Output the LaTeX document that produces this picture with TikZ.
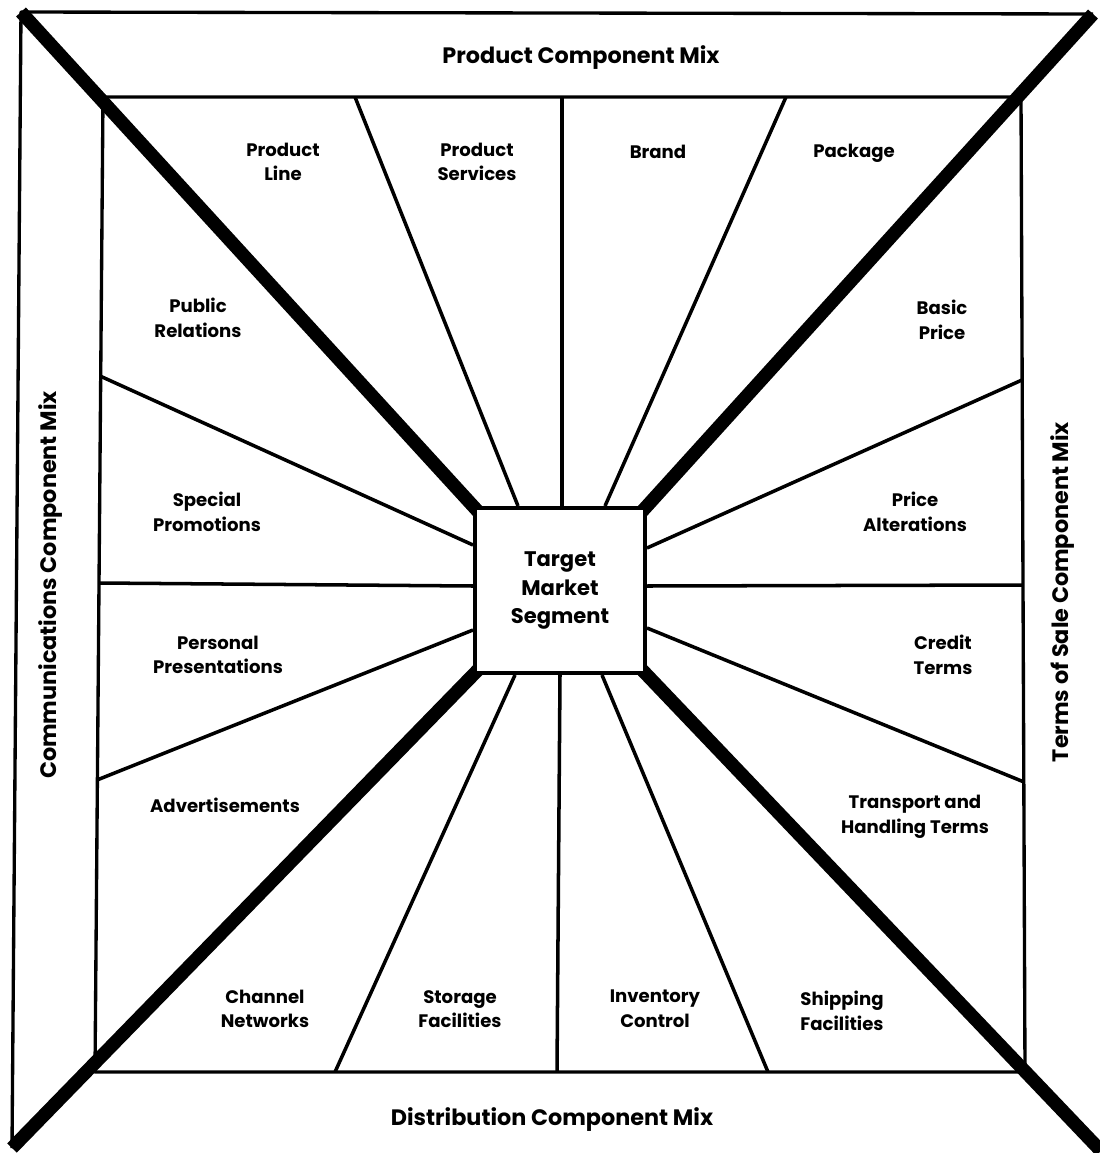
\documentclass[tikz,border=0pt]{standalone}
\usepackage{fontspec}
\setmainfont{Poppins}
\usetikzlibrary{calc,backgrounds}
\begin{document}
\begin{tikzpicture}[x=0.02cm, y=-0.02cm,
  font=\bfseries\fontsize{10.3}{14}\selectfont,
  frame/.style={line width=1.9pt, line join=round},
  spoke/.style={line width=2pt},
  diag/.style={line width=7.6pt, shorten >=-5pt},
  lbl/.style={align=center, inner sep=0pt},
  mix/.style={inner sep=0pt, font=\bfseries\fontsize{12.7}{14}\selectfont}]
  \useasboundingbox (0,0) rectangle (1099,1153);
  \node[draw, fill=white, line width=2.3pt, minimum width=3.4cm, minimum height=3.3cm, align=center,
    font=\bfseries\fontsize{12}{16.5}\selectfont] (tms) at (560,590.5) {Target\\Market\\Segment};
  \coordinate (otl) at (21,12);
  \coordinate (otr) at (1093,14);
  \coordinate (obl) at (12,1148);
  \coordinate (obr) at (1101,1151);
  \begin{scope}[on background layer]
  \draw[frame] (otr) -- (otl) -- (obl);
  \draw[frame] (103,97) -- (1021,97) -- (1025,1072) -- (95,1072) -- cycle;
  \foreach \fx/\bx in {355/518, 562/562, 786/605}
    \draw[spoke] (\fx,97) -- (\bx,0 |- tms.north);
  \foreach \fx/\bx in {335/515, 557/560, 768/602}
    \draw[spoke] (\fx,1072) -- (\bx,0 |- tms.south);
  \foreach \fx/\fy/\by in {100/376/545, 99/583/586, 97/780/630}
    \draw[spoke] (\fx,\fy) -- (tms.west |- 0,\by);
  \foreach \fx/\fy/\by in {1022/380/548, 1023/585/586, 1024/782/628}
    \draw[spoke] (\fx,\fy) -- (tms.east |- 0,\by);
  \draw[diag] (otl) -- (tms.north west);
  \draw[diag] (otr) -- (tms.north east);
  \draw[diag] (obl) -- (tms.south west);
  \draw[diag] (obr) -- (tms.south east);
  \end{scope}
  \node[mix] (pcm) at (581,58) {Product Component Mix};
  \node[mix] (dcm) at (552,1120) {Distribution Component Mix};
  \node[mix, rotate=90] (ccm) at (51,585) {Communications Component Mix};
  \node[mix, rotate=90] (tcm) at (1063,592) {Terms of Sale Component Mix};
  \node[lbl] (pl) at (283,162) {Product\\Line};
  \node[lbl] (ps) at (477,162) {Product\\Services};
  \node[lbl] (br) at (658,152) {Brand};
  \node[lbl] (pk) at (854,153) {Package};
  \node[lbl] (pr) at (198,318) {Public\\Relations};
  \node[lbl] (bp) at (942,320) {Basic\\Price};
  \node[lbl] (sp) at (207,512) {Special\\Promotions};
  \node[lbl] (pa) at (915,512) {Price\\Alterations};
  \node[lbl] (pp) at (218,655) {Personal\\Presentations};
  \node[lbl] (ct) at (943,655) {Credit\\Terms};
  \node[lbl] (ad) at (225,805) {Advertisements};
  \node[lbl] (th) at (915,817) {Transport and\\Handling Terms};
  \node[lbl] (cn) at (265,1009) {Channel\\Networks};
  \node[lbl] (sf) at (460,1009) {Storage\\Facilities};
  \node[lbl] (ic) at (655,1009) {Inventory\\Control};
  \node[lbl] (sh) at (842,1011) {Shipping\\Facilities};
\end{tikzpicture}
\end{document}
